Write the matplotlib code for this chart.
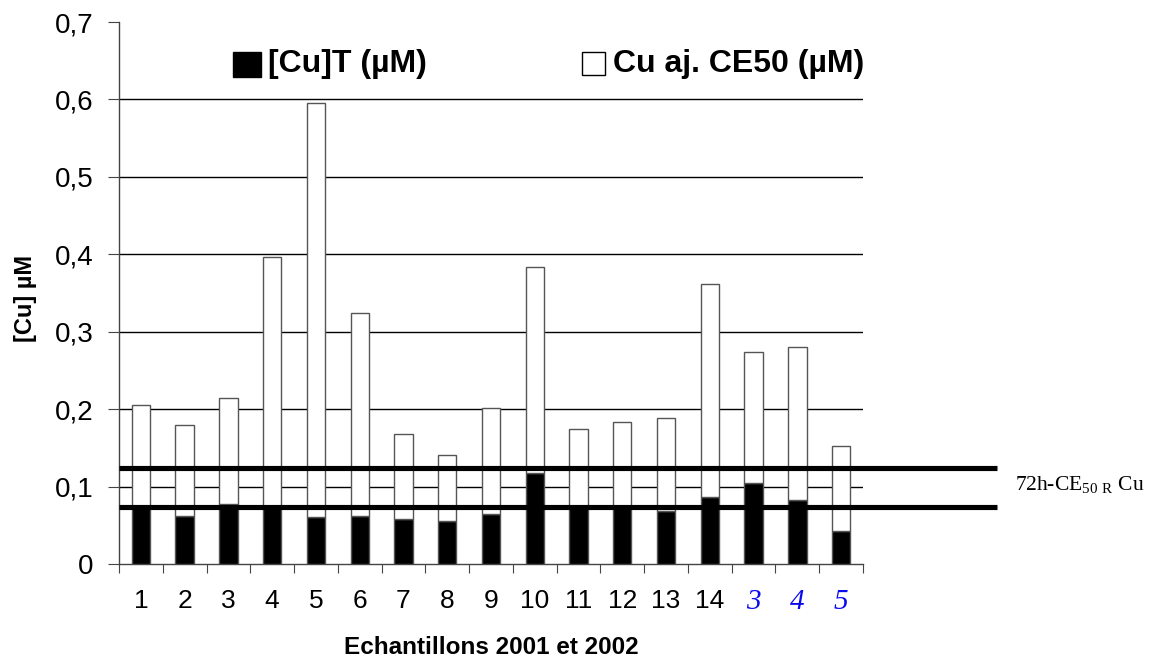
import matplotlib
matplotlib.use("Agg")
import matplotlib.pyplot as plt
from matplotlib.patches import Rectangle
import numpy as np

categories = ["1", "2", "3", "4", "5", "6", "7", "8", "9", "10", "11", "12", "13", "14", "3", "4", "5"]
cu_total = [0.075, 0.062, 0.077, 0.075, 0.0605, 0.062, 0.058, 0.055, 0.065, 0.117,
            0.075, 0.075, 0.0686, 0.0866, 0.104, 0.083, 0.043]
bar_tops = [0.205, 0.180, 0.215, 0.397, 0.595, 0.324, 0.168, 0.141, 0.202, 0.383,
            0.174, 0.184, 0.188, 0.362, 0.274, 0.280, 0.153]
cu_added = [t - b for t, b in zip(bar_tops, cu_total)]
ce50_lines = [0.124, 0.0737]
yticks = [0, 0.1, 0.2, 0.3, 0.4, 0.5, 0.6, 0.7]
ytick_labels = ["0", "0,1", "0,2", "0,3", "0,4", "0,5", "0,6", "0,7"]

W, H = 1151, 659
fig = plt.figure(figsize=(W / 100, H / 100), dpi=100)
ax = fig.add_axes([119 / W, 1 - 564 / H, (863 - 119) / W, (564 - 22) / H])

x = np.arange(len(categories))
ax.bar(x, cu_total, width=0.42, color="black", edgecolor="#555555", linewidth=1, zorder=3)
ax.bar(x, cu_added, bottom=cu_total, width=0.42, color="white", edgecolor="#555555", linewidth=1, zorder=3)

ax.set_xlim(-0.5, len(categories) - 0.5)
ax.set_ylim(0, 0.7)
ax.set_yticks(yticks)
ax.set_yticklabels(ytick_labels, fontsize=20, family="Liberation Sans")
for yv in yticks[1:-1]:
    ax.axhline(yv, color="black", linewidth=1, zorder=1)

ax.set_xticks(np.arange(len(categories) + 1) - 0.5, minor=False)
ax.set_xticklabels([])
ax.set_xticks(x, minor=True)
ax.set_xticklabels(categories, minor=True, fontsize=19, family="Liberation Sans")
ax.tick_params(axis="x", which="minor", length=0, pad=18)
ax.tick_params(axis="x", which="major", length=6.5, direction="out", color="#444444")
ax.tick_params(axis="y", length=8, direction="out", color="#444444", pad=10.5)
for lbl in ax.get_xticklabels(minor=True)[14:]:
    lbl.set_color("#0a0aee")
    lbl.set_family("Liberation Serif")
    lbl.set_style("italic")
    lbl.set_fontsize(21)

for s in ["top", "right"]:
    ax.spines[s].set_visible(False)
for s in ["left", "bottom"]:
    ax.spines[s].set_color("#444444")
    ax.spines[s].set_linewidth(1)

trans = ax.get_yaxis_transform()
x_end = (997 - 119) / (863 - 119)
for yv in ce50_lines:
    ax.plot([0, x_end], [yv, yv], color="black", linewidth=3.7, transform=trans,
            clip_on=False, zorder=4, solid_capstyle="butt")

ax.set_ylabel("[Cu] µM", fontsize=17, fontweight="bold", family="Liberation Sans")
ax.yaxis.set_label_coords((37 - 119) / 744, 0.49)
ax.set_xlabel("Echantillons 2001 et 2002", fontsize=17.5, fontweight="bold", family="Liberation Sans")
ax.xaxis.set_label_coords(0.5, -(647 - 564) / 542)
ax.xaxis.label.set_va("center")

fig.text(1015 / W, 1 - 490 / H, r"72h-CE$_{\mathregular{50\ R}}$ Cu", fontsize=15.5,
         family="Liberation Serif", va="baseline")

# legend
fig.patches.append(Rectangle((233 / W, 1 - 77 / H), 28 / W, 25 / H, transform=fig.transFigure,
                             facecolor="black", edgecolor="black", linewidth=1))
fig.patches.append(Rectangle((582 / W, 1 - 75 / H), 23 / W, 23 / H, transform=fig.transFigure,
                             facecolor="white", edgecolor="black", linewidth=1))
fig.text(268 / W, 1 - 64 / H, "[Cu]T (µM)", fontsize=23, fontweight="bold",
         family="Liberation Sans", va="center")
fig.text(613 / W, 1 - 64 / H, "Cu aj. CE50 (µM)", fontsize=23, fontweight="bold",
         family="Liberation Sans", va="center")

fig.savefig("out.png", dpi=100)
